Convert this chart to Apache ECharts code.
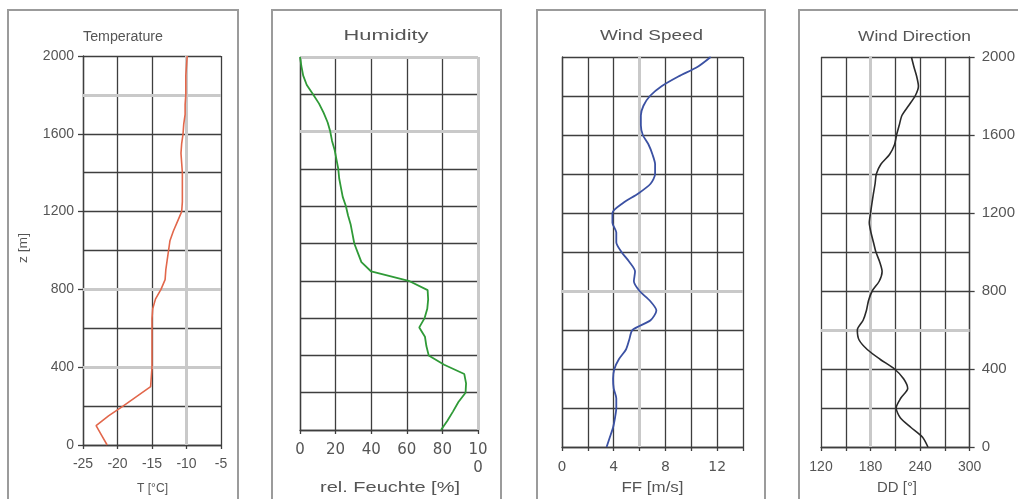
<!DOCTYPE html>
<html><head><meta charset="utf-8">
<script src="https://cdn.jsdelivr.net/npm/echarts@6/dist/echarts.min.js"></script>
<style>html,body{margin:0;padding:0;background:#fff}#c{width:1018px;height:499px}</style>
</head><body><div id="c"></div>
<script>
// heights (m) shared by all profiles
const heights = [0,50,100,150,200,250,300,350,400,450,500,550,600,650,700,750,800,850,900,950,1000,
  1050,1100,1150,1200,1250,1300,1350,1400,1450,1500,1550,1600,1650,1700,1750,1800,1850,1900,1950,2000];
// T [°C]
const temperature = [-21.5,-22.3,-23.1,-21.3,-19.2,-17.2,-15.2,-15.1,-15.0,-15.0,-15.0,-15.0,-15.0,-15.0,-14.9,-14.5,
  -13.7,-13.1,-13.0,-12.8,-12.6,-12.4,-11.9,-11.3,-10.7,-10.6,-10.6,-10.6,-10.6,-10.7,-10.8,-10.7,-10.5,-10.4,-10.2,
  -10.2,-10.1,-10.1,-10.1,-10.0,-9.9];
// rel. Feuchte [%]
const humidity = [79.2,82.8,86,89,93,93.3,92.3,81,72.3,71,70.2,67,70,71.5,72,71.7,61,40,34.5,32.5,30.5,29.5,28.5,
  27,25.8,24,23,22,21.5,20.5,19.5,18,17,15.5,13.3,10.7,7.3,3.8,1.8,0.8,0];
// FF [m/s]
const windSpeed = [3.45,3.7,3.95,4.1,4.2,4.2,4.0,3.95,4.05,4.4,4.95,5.2,5.45,6.85,7.3,6.8,6.0,5.56,5.65,5.2,4.6,4.2,
  4.2,3.9,3.9,4.7,5.9,6.85,7.2,7.2,7.0,6.7,6.25,6.1,6.1,6.3,6.8,7.7,9.0,10.5,11.5];
// DD [°]
const windDirection = [249.5,243,229,216,211,216.5,225,220,209,191.5,176,166,164,171,175,177.5,182,190.5,194,191,
  186.5,183.5,180.5,178.5,180,181.7,183.5,185.5,187,192.5,203,209,211.5,214.7,218,226,234,238,235.9,232.5,229.5];

const titles = ['Temperature','Humidity','Wind Speed','Wind Direction'];
const xNames = ['T [°C]','rel. Feuchte [%]','FF [m/s]','DD [°]'];
const yName = 'z [m]';

const GRID = '#3e3e3e', LIGHT = '#c9c9c9', TXT = '#555';
const GW = 1.3;
const LIB = '"Liberation Sans", Arial, sans-serif';
const DJV = '"DejaVu Sans", sans-serif';

const mctx = document.createElement('canvas').getContext('2d');
function txt(text, cx, cy, w, size, rot) {
  const font = size + 'px ' + LIB;
  mctx.font = font;
  const s = w / mctx.measureText(text).width;
  return {type:'text', x:cx, y:cy, rotation:rot||0, scaleX:s, silent:true, z:10,
    style:{text:text, font:font, fill:TXT, align:'center', verticalAlign:'middle'}};
}
function panel(x, w) {
  return {type:'rect', silent:true, z:0, shape:{x:x, y:10, width:w, height:520},
    style:{fill:'none', stroke:'#9b9b9b', lineWidth:2}};
}
function pairs(vals){ return vals.map((v,i)=>[v, heights[i]]); }

function xAx(gi, min, max, interval, fmt, font, size, margin) {
  return {type:'value', gridIndex:gi, min:min, max:max, interval:interval, position:'bottom',
    axisLine:{show:true, onZero:false, lineStyle:{color:GRID, width:GW}},
    axisTick:{show:true, length:4, lineStyle:{color:GRID, width:GW}},
    axisLabel:{show:true, formatter:fmt, color:TXT, fontFamily:font, fontSize:size, margin:margin, lineHeight:18,
      showMinLabel:true, showMaxLabel:true, hideOverlap:false},
    splitLine:{show:true, lineStyle:{color:GRID, width:GW}}};
}
function yAx(gi, opts) {
  const base = {type:'value', gridIndex:gi, min:0, max:2000,
    axisLine:{show:true, onZero:false, lineStyle:{color:GRID, width:GW}},
    splitLine:{show:true, lineStyle:{color:GRID, width:GW}}};
  return Object.assign(base, opts);
}
const labeledY = (pos) => ({position:pos, interval:400,
  axisTick:{show:true, length:5, lineStyle:{color:GRID, width:GW}},
  axisLabel:{show:true, formatter:(v)=>String(v), color:TXT, fontFamily:LIB,
    fontSize:pos==='left'?14:15, margin:pos==='left'?9:12},
  minorTick:{show:false, splitNumber:2},
  minorSplitLine:{show:true, lineStyle:{color:GRID, width:GW}}});
const plainY = {position:'left', interval:200, axisTick:{show:false}, axisLabel:{show:false}};

function mark(list) {
  return {silent:true, symbol:'none', z:1, label:{show:false}, animation:false,
    lineStyle:{color:LIGHT, width:3, type:'solid'}, data:list};
}

const option = {
  animation:false,
  backgroundColor:'#fff',
  graphic:[
    panel(8,230), panel(272,229), panel(537,228), panel(799,240),
    txt(titles[0],123,37,80,14), txt(titles[1],386,36.5,85,14),
    txt(titles[2],651.5,36.5,103,14), txt(titles[3],914.5,37,113,14),
    txt(xNames[0],152.5,488,31,13), txt(xNames[1],390,488,140,14),
    txt(xNames[2],652.5,488,62,14), txt(xNames[3],897,488,40,14),
    txt(yName,24,248,30,12,Math.PI/2)
  ],
  grid:[
    {left:83, top:56, width:138, height:389},
    {left:300, top:57, width:178, height:373},
    {left:562, top:57, width:181, height:390},
    {left:821, top:57, width:152, height:390}
  ],
  xAxis:[
    xAx(0,-25,-5,5,(v)=>String(v),LIB,14,10),
    xAx(1,0,100,20,(v)=> v===100 ? '10\n0' : String(v),DJV,15,11),
    xAx(2,0,14,2,(v)=> v%4===0 ? String(v) : '',DJV,14,11),
    xAx(3,120,300,30,(v)=> v%60===0 ? String(v) : '',LIB,14,11)
  ],
  yAxis:[
    yAx(0, labeledY('left')),
    yAx(1, plainY),
    yAx(2, plainY),
    yAx(3, labeledY('right'))
  ],
  series:[
    {type:'line', xAxisIndex:0, yAxisIndex:0, data:pairs(temperature), showSymbol:false, z:3,
      lineStyle:{color:'#e2674b', width:1.6}, markLine:mark([{xAxis:-10},{yAxis:1800},{yAxis:800},{yAxis:400}])},
    {type:'line', xAxisIndex:1, yAxisIndex:1, data:pairs(humidity), showSymbol:false, z:3,
      lineStyle:{color:'#2f9a37', width:1.8}, markLine:mark([{yAxis:2000},{yAxis:1600},{xAxis:100}])},
    {type:'line', xAxisIndex:2, yAxisIndex:2, data:pairs(windSpeed), showSymbol:false, smooth:0.25, z:3,
      lineStyle:{color:'#3b51a3', width:1.8}, markLine:mark([{xAxis:6},{yAxis:800}])},
    {type:'line', xAxisIndex:3, yAxisIndex:3, data:pairs(windDirection), showSymbol:false, smooth:0.25, z:3,
      lineStyle:{color:'#2a2a2a', width:1.6}, markLine:mark([{xAxis:180},{yAxis:600}])}
  ]
};
const chart = echarts.init(document.getElementById('c'), null, {renderer:'canvas'});
chart.setOption(option);
</script>
</body></html>
